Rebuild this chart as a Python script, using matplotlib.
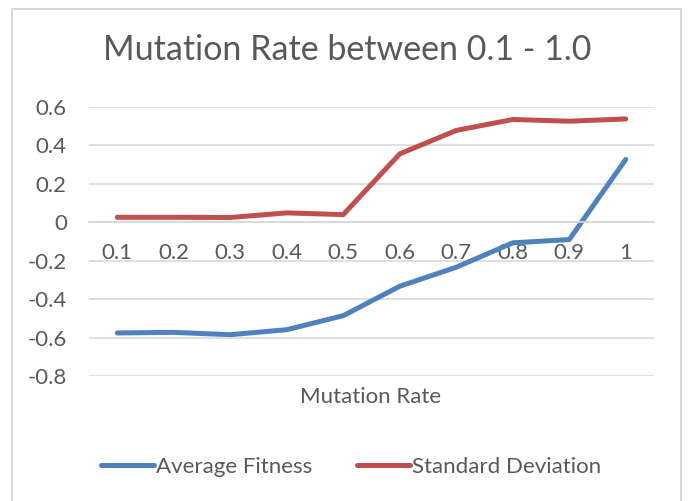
import matplotlib
matplotlib.use("Agg")
import matplotlib.pyplot as plt
from matplotlib.patches import Rectangle

plt.rcParams['font.family'] = ['Lato', 'DejaVu Sans']

# data
rates = ['0.1', '0.2', '0.3', '0.4', '0.5', '0.6', '0.7', '0.8', '0.9', '1']
avg_fitness = [-0.576, -0.573, -0.585, -0.559, -0.486, -0.333, -0.234, -0.107, -0.090, 0.327]
std_dev = [0.026, 0.026, 0.025, 0.049, 0.040, 0.356, 0.478, 0.535, 0.526, 0.538]
y_ticks = [-0.8, -0.6, -0.4, -0.2, 0, 0.2, 0.4, 0.6]

grey = '#595959'
grid = '#D9D9D9'

fig = plt.figure(figsize=(6.88, 5.01), dpi=100)
ax = fig.add_axes([89/688, 125/501, 565/688, 269/501])

x = list(range(len(rates)))
ax.plot(x, avg_fitness, color='#4F81BD', lw=3.6, solid_capstyle='round', label='Average Fitness')
ax.plot(x, std_dev, color='#C0504D', lw=3.6, solid_capstyle='round', label='Standard Deviation')

ax.set_xlim(-0.5, len(rates) - 0.5)
ax.set_ylim(-0.8, 0.6)
ax.set_yticks(y_ticks)
ax.set_yticklabels(['0' if v == 0 else '%g' % v for v in y_ticks])
ax.set_xticks(x)
ax.set_xticklabels(rates)
ax.grid(axis='y', color=grid, lw=1.2)
ax.set_axisbelow(True)
for s in ['top', 'right', 'left']:
    ax.spines[s].set_visible(False)
ax.spines['bottom'].set_position(('data', 0))
ax.spines['bottom'].set_color(grid)
ax.spines['bottom'].set_linewidth(1.2)
ax.tick_params(axis='both', length=0, labelsize=16, labelcolor=grey)
ax.tick_params(axis='x', pad=15)
ax.tick_params(axis='y', pad=16)

fig.text(347/688, 1 - 50/501, 'Mutation Rate between 0.1 - 1.0', ha='center', va='center',
         fontsize=24.5, color=grey)
fig.text(371/688, 1 - 397/501, 'Mutation Rate', ha='center', va='center', fontsize=16, color=grey)

fig.legend(loc='center', bbox_to_anchor=(351/688, 1 - 467/501), ncol=2, frameon=False,
           fontsize=16, labelcolor=grey, handlelength=2.4, handletextpad=0.1, columnspacing=2.0)

fig.patches.append(Rectangle((12/688, -0.05), 669/688, 1.05 - 9/501, transform=fig.transFigure,
                             fill=False, edgecolor=grid, lw=1.5))

fig.savefig('out.png', dpi=100)
